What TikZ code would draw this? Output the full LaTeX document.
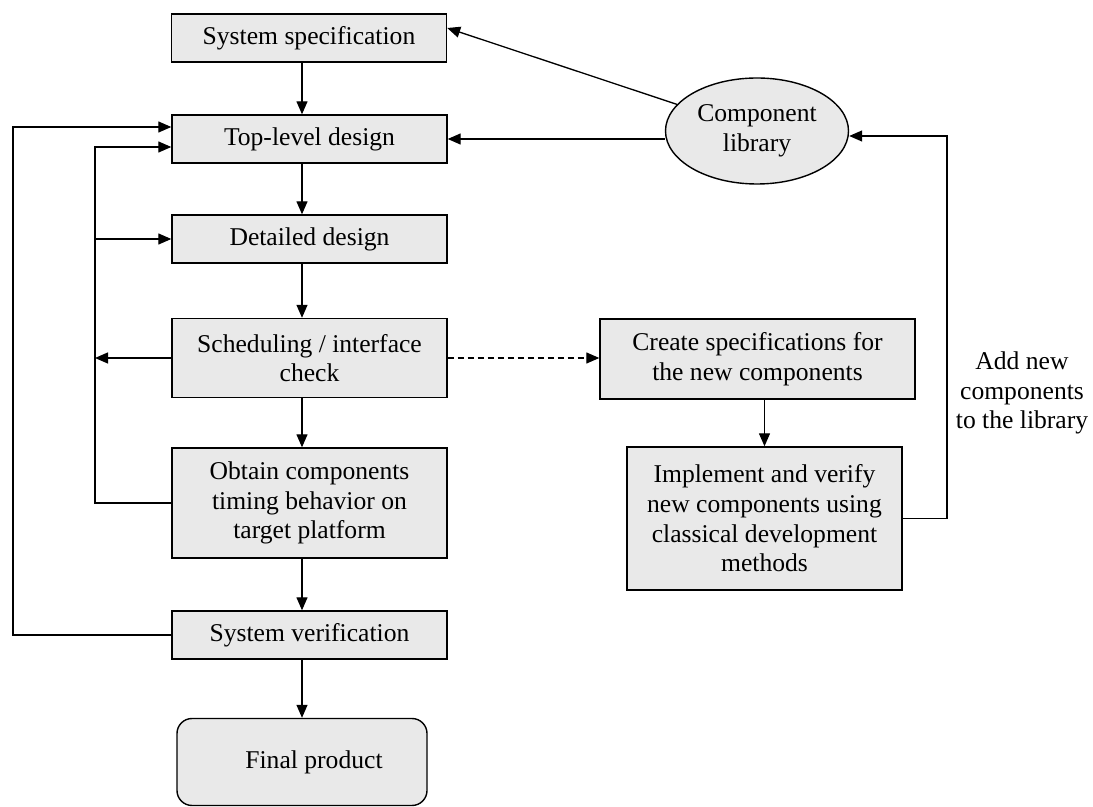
\documentclass[tikz,border=0pt]{standalone}
\usepackage{fontspec}
\setmainfont{Liberation Serif}
\usetikzlibrary{arrows.meta,shapes.geometric,calc}
\definecolor{boxfill}{RGB}{233,233,233}
\begin{document}
\begin{tikzpicture}[x=0.5pt,y=-0.5pt,
  font=\fontsize{12.8}{14.8}\selectfont,
  box/.style={draw,fill=boxfill,line width=0.7pt,align=center,inner sep=0pt},
  arr/.style={-{Triangle[length=6.5pt,width=5.5pt]},line width=0.65pt},
  ]
\useasboundingbox (0,0) rectangle (1093,807);

% main design flow
\node[box,minimum width=137.5pt,minimum height=24pt] (spec) at (309,38) {System specification};
\node[box,minimum width=137.5pt,minimum height=24pt] (top) at (309.5,139) {Top-level design};
\node[box,minimum width=137.5pt,minimum height=24pt] (det) at (309.5,239) {Detailed design};
\node[box,minimum width=137.5pt,minimum height=39.5pt] (sched) at (309.5,358) {Scheduling / interface\\check};
\node[box,minimum width=137.5pt,minimum height=55pt] (obtain) at (309.5,503) {Obtain components\\timing behavior on\\target platform};
\node[box,minimum width=137.5pt,minimum height=24pt] (verif) at (309.5,635) {System verification};
\node[box,rounded corners=7.5pt,minimum width=125pt,minimum height=43.5pt] (final) at (302,762) {\hspace*{12pt}Final product};

% component side
\node[box,ellipse,minimum width=91.5pt,minimum height=53pt] (lib) at (757,131) {Component\\library};
\node[box,minimum width=157.5pt,minimum height=40pt] (create) at (757.5,359) {Create specifications for\\the new components};
\node[box,minimum width=137.5pt,minimum height=71.5pt] (impl) at (764.5,518.5) {Implement and verify\\new components using\\classical development\\methods};
\node[align=center] (addlbl) at (1022,393) {Add new\\components\\to the library};

% routing points
\coordinate (ox) at (13,127);
\coordinate (ix) at (95,147);
\coordinate (rt) at (947,136);
\coordinate (specin) at ($(spec.east)+(0,-10)$);

% downward flow
\draw[arr] (spec.south -| final.center) -- (top.north -| final.center);
\draw[arr] (top.south -| final.center) -- (det.north -| final.center);
\draw[arr] (det.south -| final.center) -- (sched.north -| final.center);
\draw[arr] (sched.south -| final.center) -- (obtain.north -| final.center);
\draw[arr] (obtain.south -| final.center) -- (verif.north -| final.center);
\draw[arr] (verif.south -| final.center) -- (final.north);
\draw[arr] (create.south -| impl.center) -- (impl.north);

% feedback loops
\draw[arr] (verif.west) -| (ox) -- (ox -| top.west);
\draw[arr] (obtain.west) -| (ix) -- (ix -| top.west);
\draw[arr] (ix |- det.west) -- (det.west);
\draw[arr] (sched.west) -- (sched.west -| ix);
\draw[arr,dash pattern=on 3pt off 2pt] (sched.east) -- (sched.east -| create.west);

% library links
\draw[arr] (lib.west |- top.east) -- (top.east);
\draw[arr] (lib) -- (specin);
\draw[arr] (impl.east) -| (rt) -- (rt -| lib.east);
\end{tikzpicture}
\end{document}
